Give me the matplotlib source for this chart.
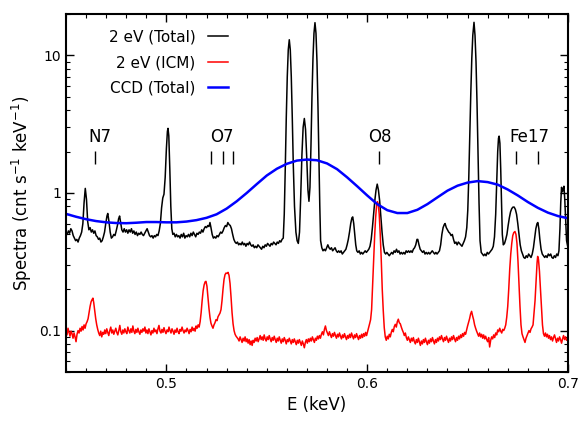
import matplotlib
matplotlib.use("Agg")
import matplotlib.pyplot as plt
from matplotlib.ticker import MultipleLocator, LogLocator, FuncFormatter, NullFormatter

# Espectro total con resolución de 2 eV: (energía keV, cuentas)
total_2ev = [
    (0.4500, 0.52), (0.4506, 0.50), (0.4512, 0.53), (0.4518, 0.51), (0.4524, 0.55), (0.4530, 0.53),
    (0.4536, 0.49), (0.4542, 0.47), (0.4548, 0.45), (0.4554, 0.46), (0.4560, 0.44), (0.4566, 0.47),
    (0.4572, 0.49), (0.4578, 0.52), (0.4584, 0.60), (0.4590, 0.85), (0.4596, 1.08), (0.4602, 0.90),
    (0.4608, 0.62), (0.4614, 0.54), (0.4620, 0.56), (0.4626, 0.52), (0.4632, 0.54), (0.4638, 0.51),
    (0.4644, 0.53), (0.4650, 0.49), (0.4656, 0.48), (0.4662, 0.46), (0.4668, 0.47), (0.4674, 0.44),
    (0.4680, 0.45), (0.4686, 0.48), (0.4692, 0.52), (0.4698, 0.60), (0.4704, 0.68), (0.4708, 0.71),
    (0.4714, 0.62), (0.4720, 0.52), (0.4726, 0.47), (0.4732, 0.48), (0.4738, 0.50), (0.4744, 0.49),
    (0.4750, 0.53), (0.4756, 0.58), (0.4762, 0.65), (0.4767, 0.68), (0.4772, 0.61), (0.4778, 0.54),
    (0.4784, 0.52), (0.4790, 0.55), (0.4796, 0.52), (0.4802, 0.54), (0.4808, 0.51), (0.4814, 0.54),
    (0.4820, 0.52), (0.4826, 0.55), (0.4832, 0.51), (0.4838, 0.53), (0.4844, 0.50), (0.4850, 0.52),
    (0.4856, 0.49), (0.4862, 0.51), (0.4868, 0.50), (0.4874, 0.52), (0.4880, 0.50), (0.4886, 0.49),
    (0.4892, 0.51), (0.4898, 0.53), (0.4904, 0.55), (0.4910, 0.52), (0.4916, 0.49), (0.4922, 0.48),
    (0.4928, 0.49), (0.4934, 0.47), (0.4940, 0.49), (0.4946, 0.48), (0.4952, 0.50), (0.4958, 0.49),
    (0.4964, 0.53), (0.4970, 0.60), (0.4976, 0.78), (0.4982, 0.92), (0.4988, 0.98), (0.4994, 1.3),
    (0.5000, 2.1), (0.5005, 2.8), (0.5008, 2.95), (0.5012, 2.6), (0.5017, 1.5), (0.5022, 0.8),
    (0.5027, 0.55), (0.5032, 0.50), (0.5038, 0.51), (0.5044, 0.48), (0.5050, 0.50), (0.5056, 0.48),
    (0.5062, 0.49), (0.5068, 0.47), (0.5074, 0.50), (0.5080, 0.48), (0.5086, 0.51), (0.5092, 0.47),
    (0.5098, 0.49), (0.5104, 0.48), (0.5110, 0.50), (0.5116, 0.48), (0.5122, 0.51), (0.5128, 0.49),
    (0.5134, 0.52), (0.5140, 0.50), (0.5146, 0.48), (0.5152, 0.51), (0.5158, 0.50), (0.5164, 0.52),
    (0.5170, 0.51), (0.5176, 0.54), (0.5182, 0.52), (0.5188, 0.55), (0.5194, 0.57), (0.5200, 0.56),
    (0.5206, 0.58), (0.5212, 0.57), (0.5217, 0.61), (0.5222, 0.56), (0.5228, 0.50), (0.5234, 0.47),
    (0.5240, 0.48), (0.5246, 0.47), (0.5252, 0.49), (0.5258, 0.48), (0.5264, 0.50), (0.5270, 0.52),
    (0.5276, 0.51), (0.5282, 0.53), (0.5288, 0.56), (0.5294, 0.58), (0.5300, 0.57), (0.5306, 0.61),
    (0.5312, 0.59), (0.5318, 0.58), (0.5324, 0.55), (0.5330, 0.50), (0.5336, 0.46), (0.5342, 0.44),
    (0.5348, 0.43), (0.5354, 0.44), (0.5360, 0.42), (0.5366, 0.43), (0.5372, 0.42), (0.5378, 0.44),
    (0.5384, 0.42), (0.5390, 0.43), (0.5396, 0.41), (0.5402, 0.43), (0.5408, 0.42), (0.5414, 0.44),
    (0.5420, 0.42), (0.5426, 0.41), (0.5432, 0.42), (0.5438, 0.40), (0.5444, 0.41), (0.5450, 0.40),
    (0.5456, 0.42), (0.5462, 0.41), (0.5468, 0.40), (0.5474, 0.39), (0.5480, 0.41), (0.5486, 0.40),
    (0.5492, 0.42), (0.5498, 0.41), (0.5504, 0.43), (0.5510, 0.42), (0.5516, 0.41), (0.5522, 0.43),
    (0.5528, 0.42), (0.5534, 0.44), (0.5540, 0.43), (0.5546, 0.42), (0.5552, 0.44), (0.5558, 0.43),
    (0.5564, 0.45), (0.5570, 0.44), (0.5576, 0.46), (0.5582, 0.47), (0.5587, 0.70), (0.5592, 1.5),
    (0.5597, 3.5), (0.5602, 7.0), (0.5607, 11.0), (0.5612, 13.0), (0.5617, 11.0), (0.5622, 7.0),
    (0.5627, 3.5), (0.5632, 1.6), (0.5638, 0.80), (0.5645, 0.52), (0.5651, 0.45), (0.5657, 0.43),
    (0.5663, 0.52), (0.5669, 0.95), (0.5675, 1.9), (0.5681, 3.0), (0.5687, 3.48), (0.5693, 2.9),
    (0.5699, 1.8), (0.5705, 1.05), (0.5710, 0.87), (0.5715, 1.1), (0.5720, 2.2), (0.5725, 5.0),
    (0.5730, 9.5), (0.5735, 14.5), (0.5740, 17.3), (0.5745, 14.5), (0.5750, 9.0), (0.5755, 4.2),
    (0.5760, 1.7), (0.5764, 0.80), (0.5768, 0.45), (0.5774, 0.40), (0.5780, 0.38), (0.5786, 0.39),
    (0.5792, 0.38), (0.5798, 0.40), (0.5804, 0.42), (0.5810, 0.40), (0.5816, 0.39), (0.5822, 0.40),
    (0.5828, 0.38), (0.5834, 0.39), (0.5840, 0.40), (0.5846, 0.38), (0.5852, 0.37), (0.5858, 0.38),
    (0.5864, 0.37), (0.5870, 0.38), (0.5876, 0.36), (0.5882, 0.37), (0.5888, 0.38), (0.5894, 0.39),
    (0.5900, 0.42), (0.5906, 0.46), (0.5912, 0.52), (0.5918, 0.60), (0.5924, 0.66), (0.5928, 0.67),
    (0.5933, 0.60), (0.5938, 0.50), (0.5943, 0.42), (0.5948, 0.38), (0.5954, 0.37), (0.5960, 0.38),
    (0.5966, 0.36), (0.5972, 0.37), (0.5978, 0.36), (0.5984, 0.37), (0.5990, 0.38), (0.5996, 0.37),
    (0.6002, 0.38), (0.6008, 0.39), (0.6014, 0.41), (0.6020, 0.46), (0.6026, 0.56), (0.6032, 0.70),
    (0.6038, 0.88), (0.6044, 1.05), (0.6050, 1.16), (0.6056, 1.05), (0.6062, 0.88), (0.6068, 0.68),
    (0.6074, 0.52), (0.6080, 0.42), (0.6086, 0.37), (0.6092, 0.36), (0.6098, 0.37), (0.6104, 0.36),
    (0.6110, 0.35), (0.6116, 0.36), (0.6122, 0.37), (0.6128, 0.36), (0.6134, 0.38), (0.6140, 0.37),
    (0.6146, 0.39), (0.6152, 0.37), (0.6158, 0.38), (0.6164, 0.36), (0.6170, 0.37), (0.6176, 0.36),
    (0.6182, 0.37), (0.6188, 0.36), (0.6194, 0.38), (0.6200, 0.37), (0.6206, 0.38), (0.6212, 0.37),
    (0.6218, 0.38), (0.6224, 0.37), (0.6230, 0.39), (0.6236, 0.40), (0.6242, 0.42), (0.6248, 0.46),
    (0.6252, 0.46), (0.6258, 0.42), (0.6264, 0.39), (0.6270, 0.38), (0.6276, 0.37), (0.6282, 0.38),
    (0.6288, 0.36), (0.6294, 0.37), (0.6300, 0.36), (0.6306, 0.37), (0.6312, 0.36), (0.6318, 0.37),
    (0.6324, 0.38), (0.6330, 0.37), (0.6336, 0.36), (0.6342, 0.37), (0.6348, 0.36), (0.6354, 0.37),
    (0.6360, 0.38), (0.6366, 0.42), (0.6372, 0.50), (0.6378, 0.56), (0.6384, 0.59), (0.6388, 0.60),
    (0.6394, 0.56), (0.6400, 0.54), (0.6406, 0.52), (0.6412, 0.51), (0.6418, 0.49), (0.6424, 0.50),
    (0.6430, 0.46), (0.6436, 0.43), (0.6442, 0.44), (0.6448, 0.42), (0.6454, 0.44), (0.6460, 0.43),
    (0.6466, 0.42), (0.6472, 0.41), (0.6478, 0.43), (0.6484, 0.45), (0.6490, 0.48), (0.6496, 0.56),
    (0.6501, 0.75), (0.6506, 1.3), (0.6511, 2.7), (0.6516, 5.3), (0.6521, 9.5), (0.6526, 14.0),
    (0.6532, 17.4), (0.6537, 14.0), (0.6542, 9.0), (0.6547, 4.5), (0.6552, 1.9), (0.6557, 0.85),
    (0.6562, 0.45), (0.6568, 0.37), (0.6574, 0.36), (0.6580, 0.35), (0.6586, 0.36), (0.6592, 0.35),
    (0.6598, 0.37), (0.6604, 0.36), (0.6610, 0.37), (0.6616, 0.38), (0.6622, 0.39), (0.6628, 0.41),
    (0.6634, 0.48), (0.6640, 0.70), (0.6645, 1.2), (0.6650, 2.0), (0.6654, 2.5), (0.6657, 2.59),
    (0.6661, 2.3), (0.6665, 1.5), (0.6669, 0.85), (0.6673, 0.50), (0.6678, 0.42), (0.6684, 0.43),
    (0.6690, 0.46), (0.6696, 0.50), (0.6702, 0.58), (0.6708, 0.66), (0.6714, 0.73), (0.6720, 0.77),
    (0.6726, 0.79), (0.6732, 0.79), (0.6738, 0.76), (0.6744, 0.70), (0.6750, 0.60), (0.6756, 0.50),
    (0.6762, 0.42), (0.6768, 0.38), (0.6774, 0.36), (0.6780, 0.34), (0.6786, 0.335), (0.6792, 0.35),
    (0.6798, 0.34), (0.6804, 0.36), (0.6810, 0.35), (0.6816, 0.34), (0.6822, 0.36), (0.6828, 0.40),
    (0.6834, 0.47), (0.6840, 0.55), (0.6846, 0.60), (0.6850, 0.61), (0.6855, 0.55), (0.6860, 0.46),
    (0.6866, 0.39), (0.6872, 0.36), (0.6878, 0.35), (0.6884, 0.34), (0.6890, 0.35), (0.6896, 0.34),
    (0.6902, 0.36), (0.6908, 0.35), (0.6914, 0.36), (0.6920, 0.34), (0.6926, 0.335), (0.6932, 0.35),
    (0.6938, 0.34), (0.6944, 0.36), (0.6950, 0.35), (0.6955, 0.38), (0.6960, 0.55), (0.6964, 0.85),
    (0.6968, 1.10), (0.6972, 1.02), (0.6976, 1.06), (0.6980, 1.12), (0.6984, 0.90), (0.6988, 0.65),
    (0.6993, 0.45), (0.7000, 0.40),
]

# Componente ICM con resolución de 2 eV
icm_2ev = [
    (0.4500, 0.100), (0.4505, 0.093), (0.4510, 0.104), (0.4515, 0.097), (0.4520, 0.091), (0.4525, 0.099),
    (0.4530, 0.095), (0.4535, 0.088), (0.4540, 0.096), (0.4545, 0.090), (0.4550, 0.083), (0.4555, 0.094),
    (0.4560, 0.100), (0.4565, 0.096), (0.4570, 0.104), (0.4575, 0.099), (0.4580, 0.107), (0.4585, 0.101),
    (0.4590, 0.110), (0.4595, 0.104), (0.4600, 0.112), (0.4605, 0.116), (0.4610, 0.122), (0.4615, 0.135),
    (0.4620, 0.150), (0.4625, 0.162), (0.4630, 0.168), (0.4634, 0.172), (0.4638, 0.160), (0.4643, 0.140),
    (0.4648, 0.122), (0.4653, 0.110), (0.4658, 0.102), (0.4663, 0.096), (0.4668, 0.092), (0.4673, 0.099),
    (0.4678, 0.090), (0.4683, 0.097), (0.4688, 0.094), (0.4693, 0.101), (0.4698, 0.095), (0.4703, 0.103),
    (0.4708, 0.097), (0.4713, 0.092), (0.4718, 0.100), (0.4723, 0.106), (0.4728, 0.096), (0.4733, 0.101),
    (0.4738, 0.094), (0.4743, 0.099), (0.4748, 0.104), (0.4753, 0.097), (0.4758, 0.093), (0.4763, 0.100),
    (0.4768, 0.109), (0.4773, 0.098), (0.4778, 0.094), (0.4783, 0.101), (0.4788, 0.096), (0.4793, 0.103),
    (0.4798, 0.098), (0.4803, 0.095), (0.4808, 0.106), (0.4813, 0.100), (0.4818, 0.096), (0.4823, 0.103),
    (0.4828, 0.097), (0.4833, 0.108), (0.4838, 0.099), (0.4843, 0.095), (0.4848, 0.102), (0.4853, 0.097),
    (0.4858, 0.104), (0.4863, 0.098), (0.4868, 0.094), (0.4873, 0.101), (0.4878, 0.097), (0.4883, 0.103),
    (0.4888, 0.099), (0.4893, 0.106), (0.4898, 0.096), (0.4903, 0.101), (0.4908, 0.095), (0.4913, 0.103),
    (0.4918, 0.098), (0.4923, 0.093), (0.4928, 0.100), (0.4933, 0.096), (0.4938, 0.104), (0.4943, 0.098),
    (0.4948, 0.101), (0.4953, 0.095), (0.4958, 0.103), (0.4963, 0.109), (0.4968, 0.099), (0.4973, 0.096),
    (0.4978, 0.102), (0.4983, 0.097), (0.4988, 0.105), (0.4993, 0.099), (0.4998, 0.095), (0.5003, 0.101),
    (0.5008, 0.098), (0.5013, 0.106), (0.5018, 0.100), (0.5023, 0.096), (0.5028, 0.103), (0.5033, 0.099),
    (0.5038, 0.094), (0.5043, 0.101), (0.5048, 0.097), (0.5053, 0.104), (0.5058, 0.098), (0.5063, 0.095),
    (0.5068, 0.102), (0.5073, 0.099), (0.5078, 0.106), (0.5083, 0.100), (0.5088, 0.096), (0.5093, 0.101),
    (0.5098, 0.098), (0.5103, 0.104), (0.5108, 0.100), (0.5113, 0.095), (0.5118, 0.102), (0.5123, 0.098),
    (0.5128, 0.106), (0.5133, 0.100), (0.5138, 0.104), (0.5143, 0.099), (0.5148, 0.108), (0.5153, 0.104),
    (0.5158, 0.110), (0.5163, 0.106), (0.5168, 0.116), (0.5173, 0.135), (0.5178, 0.165), (0.5183, 0.195),
    (0.5188, 0.215), (0.5193, 0.226), (0.5197, 0.228), (0.5202, 0.210), (0.5207, 0.175), (0.5212, 0.145),
    (0.5217, 0.125), (0.5222, 0.113), (0.5227, 0.108), (0.5232, 0.104), (0.5237, 0.110), (0.5242, 0.114),
    (0.5247, 0.120), (0.5252, 0.118), (0.5257, 0.126), (0.5262, 0.130), (0.5267, 0.134), (0.5272, 0.142),
    (0.5277, 0.165), (0.5282, 0.200), (0.5287, 0.235), (0.5292, 0.255), (0.5297, 0.262), (0.5302, 0.260),
    (0.5307, 0.265), (0.5312, 0.252), (0.5317, 0.220), (0.5322, 0.175), (0.5327, 0.135), (0.5332, 0.112),
    (0.5337, 0.100), (0.5342, 0.094), (0.5347, 0.091), (0.5352, 0.089), (0.5357, 0.087), (0.5362, 0.084),
    (0.5367, 0.090), (0.5372, 0.086), (0.5377, 0.082), (0.5382, 0.088), (0.5387, 0.084), (0.5392, 0.090),
    (0.5397, 0.083), (0.5402, 0.087), (0.5407, 0.081), (0.5412, 0.086), (0.5417, 0.079), (0.5422, 0.084),
    (0.5427, 0.078), (0.5432, 0.085), (0.5437, 0.082), (0.5442, 0.088), (0.5447, 0.084), (0.5452, 0.089),
    (0.5457, 0.083), (0.5462, 0.087), (0.5467, 0.092), (0.5472, 0.086), (0.5477, 0.090), (0.5482, 0.085),
    (0.5487, 0.093), (0.5492, 0.087), (0.5497, 0.084), (0.5502, 0.090), (0.5507, 0.086), (0.5512, 0.092),
    (0.5517, 0.087), (0.5522, 0.083), (0.5527, 0.089), (0.5532, 0.085), (0.5537, 0.091), (0.5542, 0.086),
    (0.5547, 0.082), (0.5552, 0.088), (0.5557, 0.084), (0.5562, 0.090), (0.5567, 0.085), (0.5572, 0.081),
    (0.5577, 0.087), (0.5582, 0.083), (0.5587, 0.089), (0.5592, 0.085), (0.5597, 0.080), (0.5602, 0.086),
    (0.5607, 0.083), (0.5612, 0.088), (0.5617, 0.084), (0.5622, 0.080), (0.5627, 0.086), (0.5632, 0.082),
    (0.5637, 0.087), (0.5642, 0.083), (0.5647, 0.079), (0.5652, 0.085), (0.5657, 0.081), (0.5662, 0.086),
    (0.5667, 0.082), (0.5672, 0.078), (0.5677, 0.084), (0.5682, 0.080), (0.5687, 0.075), (0.5692, 0.082),
    (0.5697, 0.086), (0.5702, 0.081), (0.5707, 0.087), (0.5712, 0.083), (0.5717, 0.088), (0.5722, 0.084),
    (0.5727, 0.090), (0.5732, 0.086), (0.5737, 0.082), (0.5742, 0.088), (0.5747, 0.085), (0.5752, 0.091),
    (0.5757, 0.087), (0.5762, 0.092), (0.5767, 0.088), (0.5772, 0.094), (0.5777, 0.098), (0.5782, 0.093),
    (0.5787, 0.102), (0.5792, 0.108), (0.5797, 0.100), (0.5802, 0.096), (0.5807, 0.092), (0.5812, 0.098),
    (0.5817, 0.093), (0.5822, 0.089), (0.5827, 0.095), (0.5832, 0.091), (0.5837, 0.097), (0.5842, 0.092),
    (0.5847, 0.088), (0.5852, 0.094), (0.5857, 0.090), (0.5862, 0.096), (0.5867, 0.091), (0.5872, 0.087),
    (0.5877, 0.093), (0.5882, 0.089), (0.5887, 0.095), (0.5892, 0.090), (0.5897, 0.086), (0.5902, 0.092),
    (0.5907, 0.088), (0.5912, 0.094), (0.5917, 0.089), (0.5922, 0.096), (0.5927, 0.091), (0.5932, 0.087),
    (0.5937, 0.093), (0.5942, 0.089), (0.5947, 0.095), (0.5952, 0.090), (0.5957, 0.086), (0.5962, 0.092),
    (0.5967, 0.088), (0.5972, 0.094), (0.5977, 0.089), (0.5982, 0.095), (0.5987, 0.091), (0.5992, 0.097),
    (0.5997, 0.092), (0.6002, 0.098), (0.6007, 0.105), (0.6012, 0.112), (0.6017, 0.120), (0.6022, 0.142),
    (0.6027, 0.21), (0.6032, 0.32), (0.6037, 0.48), (0.6042, 0.66), (0.6047, 0.82), (0.6051, 0.865),
    (0.6055, 0.83), (0.6060, 0.70), (0.6065, 0.50), (0.6070, 0.33), (0.6075, 0.20), (0.6080, 0.14),
    (0.6085, 0.105), (0.6090, 0.090), (0.6095, 0.085), (0.6100, 0.091), (0.6105, 0.087), (0.6110, 0.094),
    (0.6115, 0.090), (0.6120, 0.097), (0.6125, 0.102), (0.6130, 0.098), (0.6135, 0.107), (0.6140, 0.111),
    (0.6145, 0.106), (0.6150, 0.116), (0.6155, 0.121), (0.6160, 0.114), (0.6165, 0.112), (0.6170, 0.106),
    (0.6175, 0.101), (0.6180, 0.097), (0.6185, 0.092), (0.6190, 0.096), (0.6195, 0.089), (0.6200, 0.085),
    (0.6205, 0.090), (0.6210, 0.086), (0.6215, 0.082), (0.6220, 0.088), (0.6225, 0.084), (0.6230, 0.089),
    (0.6235, 0.083), (0.6240, 0.080), (0.6245, 0.086), (0.6250, 0.082), (0.6255, 0.088), (0.6260, 0.083),
    (0.6265, 0.078), (0.6270, 0.084), (0.6275, 0.080), (0.6280, 0.086), (0.6285, 0.082), (0.6290, 0.088),
    (0.6295, 0.083), (0.6300, 0.079), (0.6305, 0.085), (0.6310, 0.081), (0.6315, 0.087), (0.6320, 0.083),
    (0.6325, 0.089), (0.6330, 0.084), (0.6335, 0.080), (0.6340, 0.086), (0.6345, 0.082), (0.6350, 0.088),
    (0.6355, 0.084), (0.6360, 0.090), (0.6365, 0.086), (0.6370, 0.092), (0.6375, 0.087), (0.6380, 0.083),
    (0.6385, 0.089), (0.6390, 0.085), (0.6395, 0.091), (0.6400, 0.086), (0.6405, 0.082), (0.6410, 0.088),
    (0.6415, 0.084), (0.6420, 0.090), (0.6425, 0.086), (0.6430, 0.092), (0.6435, 0.087), (0.6440, 0.083),
    (0.6445, 0.089), (0.6450, 0.085), (0.6455, 0.091), (0.6460, 0.087), (0.6465, 0.093), (0.6470, 0.089),
    (0.6475, 0.095), (0.6480, 0.091), (0.6485, 0.097), (0.6490, 0.094), (0.6495, 0.101), (0.6500, 0.108),
    (0.6505, 0.115), (0.6510, 0.122), (0.6515, 0.132), (0.6520, 0.138), (0.6525, 0.128), (0.6530, 0.120),
    (0.6535, 0.110), (0.6540, 0.104), (0.6545, 0.099), (0.6550, 0.095), (0.6555, 0.091), (0.6560, 0.096),
    (0.6565, 0.090), (0.6570, 0.094), (0.6575, 0.088), (0.6580, 0.093), (0.6585, 0.087), (0.6590, 0.091),
    (0.6595, 0.086), (0.6600, 0.083), (0.6605, 0.089), (0.6610, 0.076), (0.6615, 0.085), (0.6620, 0.090),
    (0.6625, 0.087), (0.6630, 0.093), (0.6635, 0.089), (0.6640, 0.096), (0.6645, 0.093), (0.6650, 0.101),
    (0.6655, 0.098), (0.6660, 0.104), (0.6665, 0.099), (0.6670, 0.096), (0.6675, 0.102), (0.6680, 0.100),
    (0.6685, 0.104), (0.6690, 0.110), (0.6695, 0.125), (0.6700, 0.150), (0.6705, 0.200), (0.6710, 0.280),
    (0.6715, 0.360), (0.6720, 0.430), (0.6725, 0.490), (0.6730, 0.515), (0.6736, 0.525), (0.6741, 0.500),
    (0.6746, 0.430), (0.6751, 0.320), (0.6756, 0.220), (0.6761, 0.150), (0.6766, 0.110), (0.6771, 0.095),
    (0.6776, 0.090), (0.6781, 0.086), (0.6786, 0.082), (0.6791, 0.088), (0.6796, 0.092), (0.6801, 0.096),
    (0.6806, 0.100), (0.6811, 0.097), (0.6816, 0.103), (0.6821, 0.106), (0.6826, 0.110), (0.6831, 0.135),
    (0.6836, 0.165), (0.6841, 0.230), (0.6846, 0.310), (0.6849, 0.346), (0.6853, 0.330), (0.6858, 0.270),
    (0.6863, 0.200), (0.6868, 0.150), (0.6873, 0.110), (0.6878, 0.095), (0.6883, 0.091), (0.6888, 0.096),
    (0.6893, 0.090), (0.6898, 0.094), (0.6903, 0.088), (0.6908, 0.092), (0.6913, 0.086), (0.6918, 0.090),
    (0.6923, 0.084), (0.6928, 0.089), (0.6933, 0.093), (0.6938, 0.087), (0.6943, 0.082), (0.6948, 0.088),
    (0.6953, 0.084), (0.6958, 0.090), (0.6963, 0.086), (0.6968, 0.081), (0.6973, 0.087), (0.6978, 0.092),
    (0.6983, 0.086), (0.6988, 0.090), (0.6993, 0.085), (0.7000, 0.088),
]

# Espectro total visto con resolución CCD
e_ccd = [0.450, 0.455, 0.460, 0.465, 0.470, 0.475, 0.480, 0.485, 0.490, 0.495,
         0.500, 0.505, 0.510, 0.515, 0.520, 0.525, 0.530, 0.535, 0.540, 0.545,
         0.550, 0.555, 0.560, 0.565, 0.570, 0.575, 0.580, 0.585, 0.590, 0.595,
         0.600, 0.605, 0.610, 0.615, 0.620, 0.625, 0.630, 0.635, 0.640, 0.645,
         0.650, 0.655, 0.660, 0.665, 0.670, 0.675, 0.680, 0.685, 0.690, 0.695, 0.700]
total_ccd = [0.705, 0.672, 0.645, 0.625, 0.612, 0.605, 0.603, 0.608, 0.615, 0.615,
             0.612, 0.612, 0.620, 0.635, 0.660, 0.700, 0.770, 0.870, 1.00, 1.16,
             1.34, 1.50, 1.63, 1.72, 1.75, 1.73, 1.64, 1.49, 1.30, 1.12,
             0.96, 0.83, 0.75, 0.715, 0.715, 0.755, 0.83, 0.93, 1.04, 1.13,
             1.19, 1.22, 1.20, 1.15, 1.06, 0.96, 0.86, 0.78, 0.72, 0.68, 0.655]

# Identificación de líneas: etiqueta, posición del texto y energías de las marcas
ion_labels = ["N7", "O7", "O8", "Fe17"]
ion_label_e = [0.4667, 0.5277, 0.6064, 0.6806]
ion_line_e = [[0.4643], [0.5222, 0.5284, 0.5333], [0.6060], [0.6741, 0.6849]]

e_tot, s_tot = zip(*total_2ev)
e_icm, s_icm = zip(*icm_2ev)

fig = plt.figure(figsize=(5.82, 4.23), dpi=100)
ax = fig.add_axes([0.1134, 0.1206, 0.8625, 0.8463])

ax.plot(e_tot, s_tot, color="black", lw=1.1, label="2 eV (Total)")
ax.plot(e_icm, s_icm, color="red", lw=1.1, label="2 eV (ICM)")
ax.plot(e_ccd, total_ccd, color="blue", lw=1.8, label="CCD (Total)")

ax.set_yscale("log")
ax.set_xlim(0.45, 0.70)
ax.set_ylim(0.05, 20)

for lab, xt, lines in zip(ion_labels, ion_label_e, ion_line_e):
    ax.text(xt, 2.33, lab, ha="center", va="baseline", fontsize=12)
    ax.vlines(lines, 1.62, 2.02, color="black", lw=1.0)

ax.xaxis.set_major_locator(MultipleLocator(0.1))
ax.xaxis.set_minor_locator(MultipleLocator(0.01))
ax.xaxis.set_major_formatter(FuncFormatter(lambda v, p: "%g" % v))
ax.yaxis.set_major_locator(LogLocator(base=10))
ax.yaxis.set_minor_locator(LogLocator(base=10, subs=range(2, 10)))
ax.yaxis.set_major_formatter(FuncFormatter(lambda v, p: "%g" % v))
ax.yaxis.set_minor_formatter(NullFormatter())

ax.tick_params(which="both", direction="in", top=True, right=True, labelsize=10)
ax.tick_params(which="major", length=6, width=1.0)
ax.tick_params(which="minor", length=3, width=0.8)
for sp in ax.spines.values():
    sp.set_linewidth(1.5)

ax.set_xlabel("E (keV)", fontsize=12)
ax.set_ylabel("Spectra (cnt s$^{-1}$ keV$^{-1}$)", fontsize=12)

ax.legend(loc="upper right", bbox_to_anchor=(0.322, 0.957), frameon=False,
          markerfirst=False, fontsize=11, handlelength=1.3, handletextpad=0.8,
          labelspacing=0.7, borderpad=0, borderaxespad=0)

fig.savefig("out.png", dpi=100)
